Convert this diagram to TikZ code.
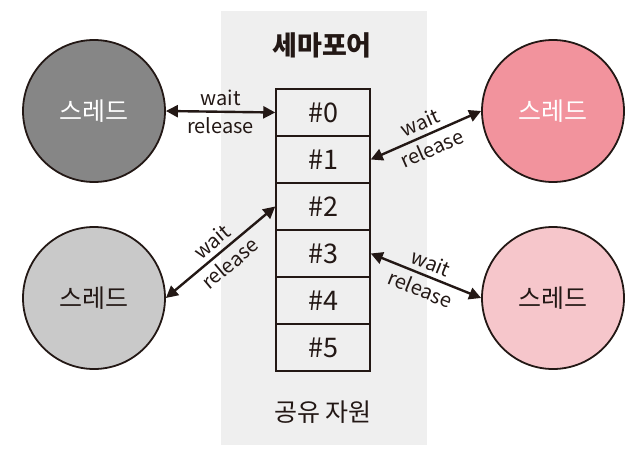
\documentclass[tikz,border=0pt]{standalone}
\usepackage{fontspec}
\setmainfont{Noto Sans CJK KR}
\usetikzlibrary{arrows.meta}
\definecolor{ink}{HTML}{231815}
\definecolor{bggray}{HTML}{EFEFEF}
\definecolor{darkg}{HTML}{868686}
\definecolor{lightg}{HTML}{C9C9C9}
\definecolor{pinkd}{HTML}{F2939D}
\definecolor{pinkl}{HTML}{F6C6CB}
\tikzset{
  thread/.style={circle, draw=ink, line width=1.8pt, minimum size=142pt, inner sep=0pt, font=\fontsize{25}{28}\selectfont},
  slot/.style={draw=ink, line width=1.5pt, minimum width=94pt, minimum height=47pt, inner sep=0pt, text=ink, font=\fontsize{27}{30}\selectfont},
  link/.style={ink, line width=2.4pt, {Triangle[length=12pt,width=12pt]}-{Triangle[length=12pt,width=12pt]}},
  lbl/.style={font=\fontsize{20}{22}\selectfont, text=ink, inner sep=5pt}
}
\begin{document}
\begin{tikzpicture}[x=1pt,y=-1pt]
\useasboundingbox (0,0) rectangle (644,457);
\fill[bggray] (221,11) rectangle (427,445);
\node[font=\bfseries\fontsize{27}{30}\selectfont, text=ink] (title) at (322,45) {세마포어};
\foreach \i in {0,...,5}{
  \node[slot] (b\i) at (323,{112.5+47*\i}) {\#\i};
}
\node[font=\fontsize{25}{28}\selectfont, text=ink] (res) at (323,412) {공유 자원};
\node[thread, fill=darkg, text=white] (l1) at (94,111) {스레드};
\node[thread, fill=lightg, text=ink] (l2) at (94,298) {스레드};
\node[thread, fill=pinkd, text=white] (r1) at (553,111) {스레드};
\node[thread, fill=pinkl, text=ink] (r2) at (553,298) {스레드};
\draw[link] (l1.east) -- node[lbl, above] {wait} node[lbl, below] {release} (b0.west);
\draw[link] (b1.east) -- node[lbl, above, sloped] {wait} node[lbl, below, sloped] {release} (r1.west);
\draw[link] (l2.east) -- node[lbl, above, sloped] {wait} node[lbl, below, sloped] {release} (b2.west);
\draw[link] (b3.east) -- node[lbl, above, sloped] {wait} node[lbl, below, sloped] {release} (r2.west);
\end{tikzpicture}
\end{document}
